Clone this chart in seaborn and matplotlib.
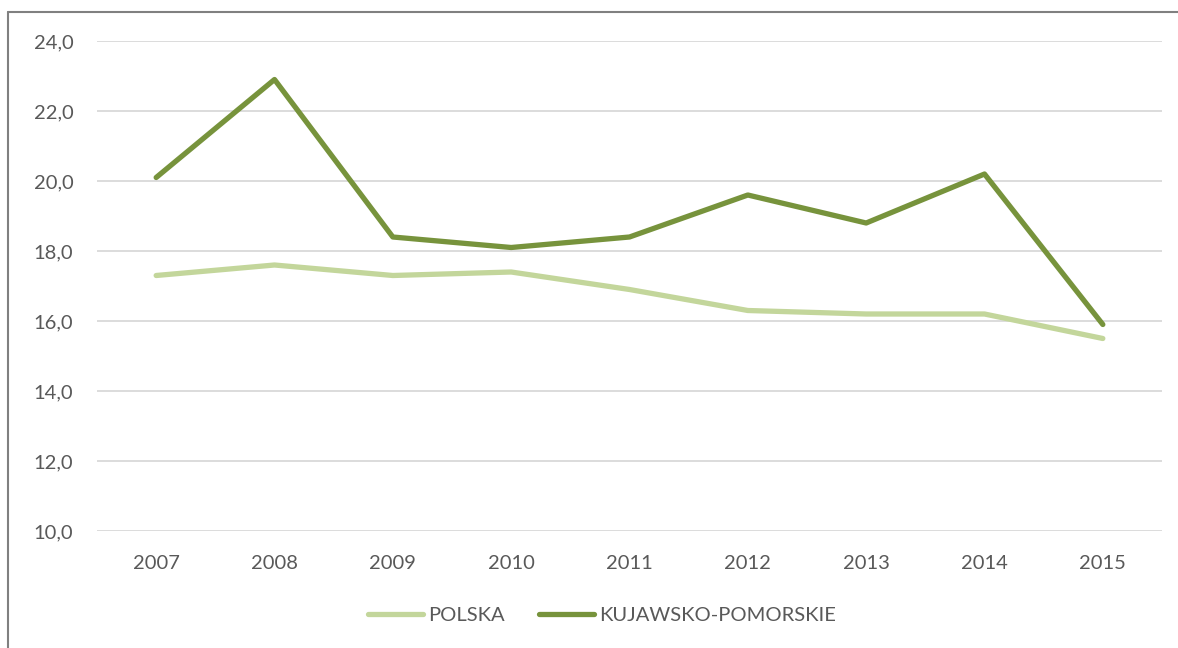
import matplotlib
matplotlib.use("Agg")
import matplotlib.pyplot as plt
from matplotlib.lines import Line2D
import seaborn as sns
import pandas as pd

years = ["2007", "2008", "2009", "2010", "2011", "2012", "2013", "2014", "2015"]
polska = [17.3, 17.6, 17.3, 17.4, 16.9, 16.3, 16.2, 16.2, 15.5]
kujawsko_pomorskie = [20.1, 22.9, 18.4, 18.1, 18.4, 19.6, 18.8, 20.2, 15.9]
series_names = ["POLSKA", "KUJAWSKO-POMORSKIE"]
y_ticks = [10, 12, 14, 16, 18, 20, 22, 24]

df = pd.DataFrame({
    "rok": list(range(len(years))) * 2,
    "wartosc": polska + kujawsko_pomorskie,
    "seria": [series_names[0]] * len(years) + [series_names[1]] * len(years),
})

sns.set_theme(style="white")
plt.rcParams["font.family"] = ["Lato", "DejaVu Sans"]

fig = plt.figure(figsize=(11.78, 6.48), dpi=100)
ax = fig.add_axes([97 / 1178, 1 - 531 / 648, (1162 - 97) / 1178, 490 / 648])

palette = {series_names[0]: "#C3D69B", series_names[1]: "#77933C"}
sns.lineplot(data=df, x="rok", y="wartosc", hue="seria", palette=palette,
             linewidth=3.8, ax=ax, legend=False, solid_capstyle="round",
             hue_order=series_names)

ax.set_xlim(-0.5, len(years) - 0.5)
ax.set_ylim(10, 24)
ax.set_xticks(range(len(years)))
ax.set_xticklabels(years)
ax.set_yticks(y_ticks)
ax.set_yticklabels([f"{v:.1f}".replace(".", ",") for v in y_ticks])
ax.set_xlabel("")
ax.set_ylabel("")
ax.grid(axis="y", color="#D9D9D9", linewidth=1.3)
ax.set_axisbelow(True)
for s in ax.spines.values():
    s.set_visible(False)
ax.tick_params(axis="both", length=0, labelsize=14.5, labelcolor="#595959")
ax.tick_params(axis="x", pad=17)
ax.tick_params(axis="y", pad=17)

handles = [Line2D([0], [0], color=palette[n], linewidth=3.8, solid_capstyle="round")
           for n in series_names]
fig.legend(handles, series_names, loc="center", bbox_to_anchor=(602 / 1178, 1 - 615 / 648),
           ncol=2, frameon=False, fontsize=14.5, labelcolor="#595959",
           handlelength=2.7, handletextpad=0.25, columnspacing=1.75)

# chart frame
fig.add_artist(Line2D([8 / 1178, 8 / 1178], [0, 1 - 12 / 648], transform=fig.transFigure,
                      color="#808080", linewidth=1.5))
fig.add_artist(Line2D([8 / 1178, 1], [1 - 12 / 648, 1 - 12 / 648], transform=fig.transFigure,
                      color="#808080", linewidth=1.5))

fig.savefig("out.png", dpi=100)
